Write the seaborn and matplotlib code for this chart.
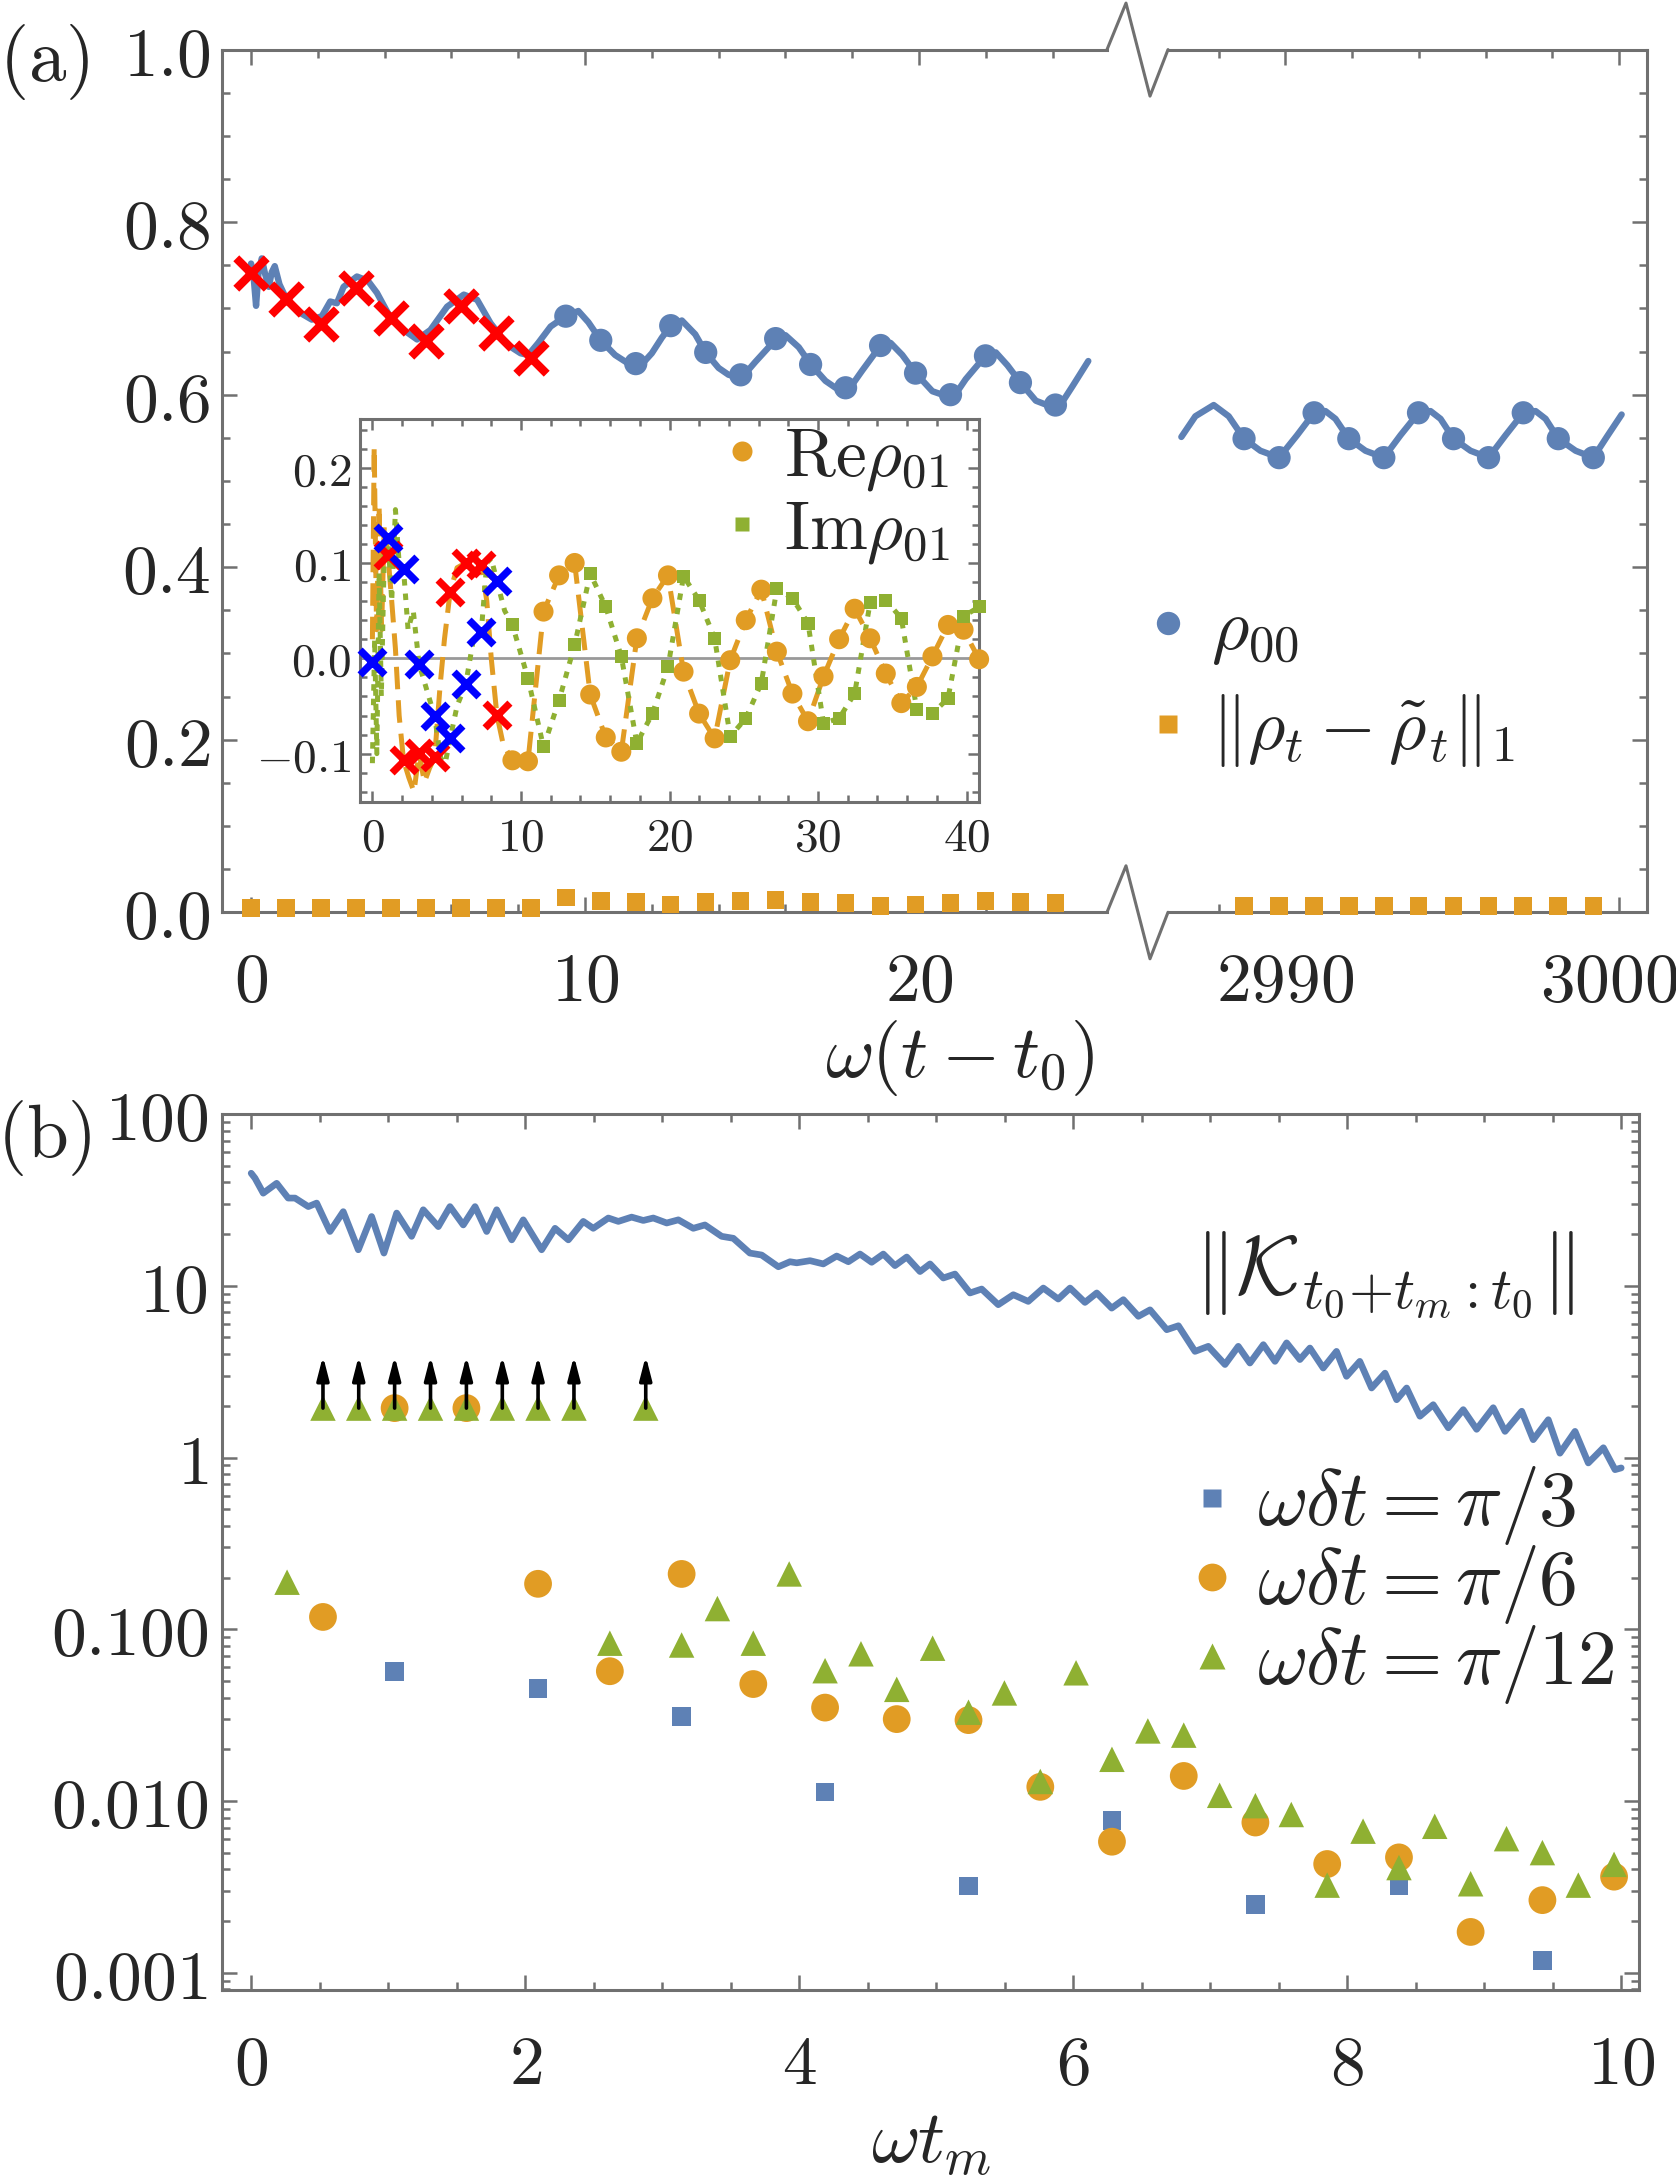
import numpy as np
import matplotlib
matplotlib.use("Agg")
import matplotlib.pyplot as plt
import seaborn as sns
from matplotlib.lines import Line2D
from matplotlib.ticker import MultipleLocator, LogLocator, NullFormatter
from matplotlib.transforms import ScaledTranslation

# ---------------- panel (a): rho_00 and trace distance ----------------
cross_t = [0.000, 1.047, 2.094, 3.142, 4.189, 5.236, 6.283, 7.330, 8.378]
cross_rho = [0.741, 0.711, 0.682, 0.724, 0.689, 0.662, 0.703, 0.672, 0.642]
circ_t = [9.425, 10.472, 11.519, 12.566, 13.614, 14.661, 15.708, 16.755,
          17.802, 18.850, 19.897, 20.944, 21.991, 23.038, 24.086]
circ_rho = [0.691, 0.663, 0.636, 0.680, 0.649, 0.623, 0.665, 0.635,
            0.608, 0.657, 0.625, 0.600, 0.645, 0.614, 0.588]
circ_t_late = [2988.76, 2989.81, 2990.86, 2991.90, 2992.95, 2993.99,
               2995.04, 2996.09, 2997.13, 2998.18, 2999.23]
circ_rho_late = [0.549, 0.527, 0.579, 0.549, 0.527, 0.579,
                 0.549, 0.527, 0.579, 0.549, 0.527]

line_t = [0.00, 0.08, 0.15, 0.22, 0.32, 0.42, 0.53, 0.62, 0.71, 0.85, 1.02,
          1.42, 1.82, 2.12, 2.37, 2.57, 2.77, 3.17, 3.50, 3.77, 4.12, 4.57,
          4.97, 5.37, 5.87, 6.37, 6.77, 7.17, 7.67, 8.07, 8.30, 8.60, 8.97,
          9.42, 9.80, 10.10, 10.47, 10.90, 11.30, 11.65, 12.00, 12.30, 12.57,
          12.90, 13.30, 13.61, 14.00, 14.30, 14.70, 15.10, 15.50, 15.71, 16.00,
          16.40, 16.76, 17.20, 17.50, 17.90, 18.30, 18.85, 19.15, 19.50, 19.90,
          20.40, 20.70, 21.05, 21.40, 21.99, 22.30, 22.65, 23.04, 23.50, 23.90,
          24.20, 24.60, 25.07]
line_rho = [0.752, 0.735, 0.703, 0.740, 0.758, 0.740, 0.725, 0.742, 0.749, 0.728,
            0.714, 0.696, 0.687, 0.691, 0.708, 0.706, 0.725, 0.737, 0.732, 0.718,
            0.693, 0.675, 0.664, 0.675, 0.702, 0.716, 0.710, 0.683, 0.658, 0.648,
            0.646, 0.660, 0.679, 0.691, 0.697, 0.684, 0.663, 0.646, 0.636, 0.633,
            0.648, 0.666, 0.680, 0.686, 0.670, 0.649, 0.631, 0.623, 0.620, 0.638,
            0.655, 0.665, 0.669, 0.655, 0.635, 0.616, 0.608, 0.606, 0.628, 0.657,
            0.660, 0.646, 0.625, 0.604, 0.600, 0.598, 0.618, 0.645, 0.649, 0.634,
            0.614, 0.593, 0.587, 0.586, 0.610, 0.639]
line_t_late = [2986.88, 2987.30, 2987.85, 2988.30, 2988.76, 2989.25, 2989.81,
               2990.35, 2990.86, 2991.20, 2991.50, 2991.90, 2992.40, 2992.95,
               2993.45, 2993.99, 2994.35, 2994.65, 2995.04, 2995.55, 2996.09,
               2996.60, 2997.13, 2997.50, 2997.80, 2998.18, 2998.70, 2999.23,
               2999.65, 3000.08]
line_rho_late = [0.551, 0.575, 0.588, 0.575, 0.549, 0.535, 0.527, 0.553, 0.579,
                 0.581, 0.572, 0.549, 0.535, 0.527, 0.553, 0.579, 0.581, 0.572,
                 0.549, 0.535, 0.527, 0.553, 0.579, 0.581, 0.572, 0.549, 0.535,
                 0.527, 0.552, 0.577]

td_val = [0.005, 0.005, 0.005, 0.005, 0.005, 0.005, 0.005, 0.005, 0.005,
          0.017, 0.013, 0.012, 0.009, 0.012, 0.013, 0.014, 0.012, 0.011,
          0.007, 0.009, 0.011, 0.013, 0.012, 0.011]
td_val_late = [0.007, 0.007, 0.007, 0.007, 0.007, 0.007,
               0.007, 0.007, 0.007, 0.007, 0.007]

# ---------------- inset: Re/Im rho_01 ----------------
in_t = [9.425, 10.472, 11.519, 12.566, 13.614, 14.661, 15.708, 16.755, 17.802,
        18.850, 19.897, 20.944, 21.991, 23.038, 24.086, 25.133, 26.180, 27.227,
        28.274, 29.322, 30.369, 31.416, 32.463, 33.510, 34.558, 35.605, 36.652,
        37.699, 38.746, 39.794, 40.841]
re_val = [-0.107, -0.108, 0.049, 0.087, 0.100, -0.038, -0.083, -0.098, 0.021,
          0.063, 0.087, -0.014, -0.058, -0.084, -0.002, 0.040, 0.072, 0.007,
          -0.037, -0.066, -0.019, 0.020, 0.052, 0.021, -0.016, -0.047, -0.030,
          0.002, 0.035, 0.030, -0.001]
im_val = [0.035, -0.021, -0.093, -0.044, 0.014, 0.089, 0.054, 0.002, -0.089,
          -0.058, -0.009, 0.086, 0.061, 0.021, -0.082, -0.063, -0.026, 0.073,
          0.063, 0.037, -0.068, -0.063, -0.037, 0.059, 0.061, 0.042, -0.054,
          -0.058, -0.042, 0.044, 0.054]
re_cross_t = [1.047, 2.094, 3.142, 4.189, 5.236, 6.283, 7.330, 8.378]
re_cross = [0.108, -0.107, -0.099, -0.104, 0.070, 0.100, 0.098, -0.059]
im_cross_t = [0.000, 1.047, 2.094, 3.142, 4.189, 5.236, 6.283, 7.330, 8.378]
im_cross = [-0.004, 0.126, 0.094, -0.006, -0.061, -0.084, -0.027, 0.028, 0.081]
re_early_t = [0.00, 0.12, 0.28, 0.45, 0.62, 0.80, 1.047, 1.30, 1.55, 1.80, 2.094,
              2.45, 2.80, 3.142, 3.50, 3.85, 4.189, 4.55, 4.85, 5.236, 5.70,
              6.283, 6.80, 7.330, 7.70, 8.00, 8.378, 8.80]
re_early = [0.02, 0.222, 0.03, 0.16, 0.03, 0.14, 0.108, 0.06, 0.01, -0.06, -0.107,
            -0.125, -0.14, -0.099, -0.13, -0.115, -0.104, -0.03, 0.02, 0.070, 0.095,
            0.100, 0.108, 0.098, 0.06, 0.00, -0.059, -0.09]
im_early_t = [0.00, 0.15, 0.30, 0.45, 0.60, 0.80, 1.047, 1.30, 1.55, 1.80, 2.094,
              2.40, 2.75, 3.142, 3.60, 4.189, 4.60, 4.90, 5.236, 5.70, 6.283,
              6.80, 7.330, 7.70, 8.00, 8.378, 8.90]
im_early = [-0.11, 0.02, -0.10, 0.09, -0.04, 0.11, 0.126, 0.06, 0.156, 0.10, 0.094,
            0.03, 0.05, -0.006, -0.03, -0.061, -0.105, -0.11, -0.084, -0.05, -0.027,
            0.02, 0.028, 0.10, 0.105, 0.081, 0.05]

# ---------------- panel (b): propagator norm and errors ----------------
k_t = [0.000, 0.028, 0.088, 0.186, 0.270, 0.320, 0.417, 0.478, 0.575, 0.672,
       0.782, 0.879, 0.969, 1.062, 1.171, 1.256, 1.366, 1.451, 1.548, 1.634,
       1.719, 1.792, 1.902, 1.986, 2.120, 2.218, 2.315, 2.424, 2.497, 2.607,
       2.680, 2.777, 2.862, 2.935, 3.033, 3.118, 3.227, 3.312, 3.434, 3.519,
       3.640, 3.726, 3.848, 3.933, 3.982, 4.079, 4.176, 4.274, 4.359, 4.444,
       4.529, 4.614, 4.699, 4.785, 4.882, 4.955, 5.052, 5.137, 5.247, 5.332,
       5.453, 5.563, 5.672, 5.782, 5.891, 5.977, 6.086, 6.172, 6.281, 6.366,
       6.476, 6.561, 6.683, 6.768, 6.889, 6.986, 7.108, 7.205, 7.290, 7.388,
       7.473, 7.558, 7.655, 7.728, 7.825, 7.922, 7.995, 8.092, 8.178, 8.276,
       8.361, 8.434, 8.531, 8.628, 8.738, 8.847, 8.945, 9.066, 9.152, 9.274,
       9.358, 9.468, 9.553, 9.663, 9.760, 9.870, 9.955, 10.000]
k_norm = [45.2, 42.3, 34.6, 39.5, 32.4, 32.4, 28.9, 30.3, 20.7, 27.0,
          16.2, 25.3, 15.5, 26.5, 19.4, 27.7, 22.1, 28.9, 22.6, 28.9,
          20.7, 27.7, 18.5, 24.2, 16.2, 21.6, 18.5, 23.7, 21.6, 24.8,
          23.7, 25.1, 24.0, 24.8, 23.2, 24.2, 21.6, 22.6, 19.4, 18.9,
          15.5, 15.1, 12.9, 13.8, 13.6, 14.0, 13.4, 14.9, 13.8, 15.3,
          13.7, 15.3, 13.1, 14.7, 12.1, 13.4, 11.1, 11.7, 9.08, 9.57,
          7.76, 8.87, 8.11, 9.70, 8.37, 9.70, 8.00, 9.08, 7.41, 8.30,
          6.64, 7.24, 5.55, 5.85, 4.15, 4.44, 3.48, 4.44, 3.55, 4.54,
          3.63, 4.65, 3.72, 4.34, 3.32, 4.15, 2.97, 3.63, 2.54, 3.10,
          2.17, 2.54, 1.74, 2.03, 1.49, 1.90, 1.46, 1.95, 1.42, 1.86,
          1.27, 1.66, 1.06, 1.42, 0.93, 1.14, 0.85, 0.87]

pi3_t = [1.047, 2.094, 3.142, 4.189, 5.236, 6.283, 7.330, 8.378, 9.425]
pi3_err = [0.057, 0.045, 0.031, 0.0113, 0.0032, 0.0077, 0.0025, 0.0032, 0.00118]
pi6_t = [0.524, 2.094, 2.618, 3.142, 3.665, 4.189, 4.712, 5.236, 5.760,
         6.283, 6.807, 7.330, 7.854, 8.378, 8.901, 9.425, 9.948]
pi6_err = [0.118, 0.184, 0.057, 0.210, 0.048, 0.035, 0.030, 0.0296, 0.0121,
           0.0058, 0.0140, 0.0075, 0.0043, 0.0047, 0.00173, 0.00265, 0.00363]
pi6_off_t = [1.047, 1.571]
pi12_t = [0.262, 2.618, 3.142, 3.403, 3.665, 3.927, 4.189, 4.451, 4.712, 4.974,
          5.236, 5.498, 5.760, 6.021, 6.283, 6.545, 6.807, 7.069, 7.330, 7.592,
          7.854, 8.116, 8.378, 8.639, 8.901, 9.163, 9.425, 9.687, 9.948]
pi12_err = [0.188, 0.083, 0.081, 0.132, 0.083, 0.21, 0.0574, 0.072, 0.0447, 0.0776,
            0.0329, 0.0426, 0.013, 0.0558, 0.0175, 0.0256, 0.0242, 0.0108, 0.0094,
            0.00835, 0.00324, 0.00668, 0.0041, 0.00713, 0.0033, 0.00604, 0.00501,
            0.00324, 0.00428]
pi12_off_t = [0.524, 0.785, 1.047, 1.309, 1.571, 1.833, 2.094, 2.356, 2.880]
off_level = 1.94   # where off-scale points are parked
off_arrow_top = 3.9

# ---------------- ticks ----------------
a_yticks = [0.0, 0.2, 0.4, 0.6, 0.8, 1.0]
a_yticklabels = ["$0.0$", "$0.2$", "$0.4$", "$0.6$", "$0.8$", "$1.0$"]
a_xticks_left = [0, 10, 20]
a_xticklabels_left = ["$0$", "$10$", "$20$"]
a_xticks_right = [2990, 3000]
a_xticklabels_right = ["$2990$", "$3000$"]
in_xticks = [0, 10, 20, 30, 40]
in_xticklabels = ["$0$", "$10$", "$20$", "$30$", "$40$"]
in_yticks = [-0.1, 0.0, 0.1, 0.2]
in_yticklabels = ["$-0.1$", "$0.0$", "$0.1$", "$0.2$"]
b_xticks = [0, 2, 4, 6, 8, 10]
b_xticklabels = ["$0$", "$2$", "$4$", "$6$", "$8$", "$10$"]
b_yticks = [0.001, 0.01, 0.1, 1, 10, 100]
b_yticklabels = ["$0.001$", "$0.010$", "$0.100$", "$1$", "$10$", "$100$"]

# ---------------- style ----------------
sns.set_style("ticks")
plt.rcParams["mathtext.fontset"] = "cm"
plt.rcParams["font.family"] = ["DejaVu Serif"]

BLUE = "#5E81B5"
ORANGE = "#E19C24"
GREEN = "#8FB032"
FRAME = "#707070"

W, H = 1676, 2176
fig = plt.figure(figsize=(W / 200, H / 200), dpi=200)


def box(x0, y0, x1, y1):
    return [x0 / W, 1 - y1 / H, (x1 - x0) / W, (y1 - y0) / H]


axL = fig.add_axes(box(222, 49.6, 1107, 912.3))
axR = fig.add_axes(box(1168, 49.6, 1647, 912.3))
axB = fig.add_axes(box(222, 1114, 1639, 1990))
axI = fig.add_axes(box(360, 419.3, 978.5, 801.7))


def frame(ax, size, major, minor, xpad, ypad):
    for s in ax.spines.values():
        s.set_color(FRAME)
        s.set_linewidth(1.1)
    ax.tick_params(which="both", direction="in", color=FRAME, width=0.9,
                   top=True, right=True, labelsize=size)
    ax.tick_params(which="major", length=major)
    ax.tick_params(which="minor", length=minor)
    ax.tick_params(axis="x", which="both", pad=xpad)
    ax.tick_params(axis="y", which="both", pad=ypad)
    ax.grid(False)


# ---- panel (a) ----
for ax, lt, lr, ct, tv in [
        (axL, line_t, line_rho, cross_t + circ_t, td_val),
        (axR, line_t_late, line_rho_late, circ_t_late, td_val_late)]:
    sns.lineplot(x=lt, y=lr, ax=ax, color=BLUE, lw=2.3, sort=False,
                 estimator=None, zorder=2, solid_joinstyle="round")
    sns.scatterplot(x=ct, y=tv, ax=ax, marker="s", s=40, color=ORANGE,
                    edgecolor="none", linewidth=0, zorder=3, clip_on=False)

sns.scatterplot(x=circ_t, y=circ_rho, ax=axL, marker="o", s=70, color=BLUE,
                edgecolor="none", linewidth=0, zorder=3)
sns.scatterplot(x=circ_t_late, y=circ_rho_late, ax=axR, marker="o", s=70,
                color=BLUE, edgecolor="none", linewidth=0, zorder=3)
sns.scatterplot(x=cross_t, y=cross_rho, ax=axL, marker="x", s=120,
                color="#FF0000", linewidth=3.0, zorder=4, clip_on=False)

axL.set_xlim(-0.87, 25.63)
axR.set_xlim(2986.48, 3000.84)
for ax in (axL, axR):
    ax.set_ylim(0, 1)
    frame(ax, 25, 5.5, 3.0, 13, 4)
    ax.set_yticks(a_yticks)
    ax.yaxis.set_minor_locator(MultipleLocator(0.05))
    ax.xaxis.set_minor_locator(MultipleLocator(2))
    ax.set_xlabel("")
    ax.set_ylabel("")
axL.set_xticks(a_xticks_left, a_xticklabels_left)
axL.set_yticklabels(a_yticklabels)
axL.spines["right"].set_visible(False)
axL.tick_params(which="both", right=False)
axR.set_xticks(a_xticks_right, a_xticklabels_right)
axR.spines["left"].set_visible(False)
axR.tick_params(which="both", left=False, labelleft=False)
# the last label sits right at the figure edge; nudge it inwards a little
for lab in axR.get_xticklabels():
    if lab.get_text() == "$3000$":
        lab.set_transform(lab.get_transform()
                          + ScaledTranslation(-0.05, 0, fig.dpi_scale_trans))

# break marks
for yb in (49.6, 912.3):
    xs = [1107, 1126, 1150, 1168]
    ys = [yb, yb - 46.5, yb + 46.5, yb]
    fig.add_artist(Line2D([x / W for x in xs], [1 - y / H for y in ys],
                          color=FRAME, lw=1.1))

legA = [Line2D([], [], ls="none", marker="o", ms=8.4, color=BLUE, mec="none"),
        Line2D([], [], ls="none", marker="s", ms=6.3, color=ORANGE, mec="none")]
fig.legend(legA, [r"$\rho_{00}$", r"$\Vert\rho_t-\tilde{\rho}_t\Vert_1$"],
           loc="center left", bbox_to_anchor=(1139 / W, 1 - 681 / H),
           frameon=False, fontsize=26, handlelength=0.8, handletextpad=0.2,
           labelspacing=0.35, borderpad=0, borderaxespad=0)

fig.text(44 / W, 1 - 62 / H, r"$\mathrm{(a)}$", fontsize=27, ha="center", va="center")
fig.text(960 / W, 1 - 1058 / H, r"$\omega(t-t_0)$", fontsize=27, ha="center", va="center")

# ---- inset ----
axI.axhline(0, color="#999999", lw=1.0, zorder=1)
sns.lineplot(x=re_early_t + in_t, y=re_early + re_val, ax=axI, color=ORANGE,
             lw=1.8, linestyle=(0, (4.5, 2.2)), sort=False, estimator=None, zorder=2)
sns.lineplot(x=im_early_t + in_t, y=im_early + im_val, ax=axI, color=GREEN,
             lw=1.8, linestyle=(0, (1.3, 1.6)), sort=False, estimator=None, zorder=2)
sns.scatterplot(x=in_t, y=re_val, ax=axI, marker="o", s=52, color=ORANGE,
                edgecolor="none", linewidth=0, zorder=3, clip_on=False)
sns.scatterplot(x=in_t, y=im_val, ax=axI, marker="s", s=22, color=GREEN,
                edgecolor="none", linewidth=0, zorder=3, clip_on=False)
sns.scatterplot(x=re_cross_t, y=re_cross, ax=axI, marker="x", s=80,
                color="#FF0000", linewidth=2.6, zorder=4)
sns.scatterplot(x=im_cross_t, y=im_cross, ax=axI, marker="x", s=80,
                color="#0000FF", linewidth=2.6, zorder=5, clip_on=False)
axI.set_xlim(-0.835, 40.8)
axI.set_ylim(-0.1504, 0.2507)
frame(axI, 17, 4.0, 2.4, 5, 3)
axI.set_xticks(in_xticks, in_xticklabels)
axI.set_yticks(in_yticks, in_yticklabels)
axI.xaxis.set_minor_locator(MultipleLocator(2))
axI.yaxis.set_minor_locator(MultipleLocator(0.02))
axI.set_xlabel("")
axI.set_ylabel("")
axI.set_facecolor("white")
legI = [Line2D([], [], ls="none", marker="o", ms=7.2, color=ORANGE, mec="none"),
        Line2D([], [], ls="none", marker="s", ms=4.7, color=GREEN, mec="none")]
axI.legend(legI, [r"$\mathrm{Re}\rho_{01}$", r"$\mathrm{Im}\rho_{01}$"],
           loc="center left", bbox_to_anchor=(0.573, 0.803), frameon=False,
           fontsize=25, handlelength=0.8, handletextpad=0.2, labelspacing=0.05,
           borderpad=0, borderaxespad=0)

# ---- panel (b) ----
sns.lineplot(x=k_t, y=k_norm, ax=axB, color=BLUE, lw=2.4, sort=False,
             estimator=None, zorder=2, solid_joinstyle="round")
sns.scatterplot(x=pi3_t, y=pi3_err, ax=axB, marker="s", s=46, color=BLUE,
                edgecolor="none", linewidth=0, zorder=3)
sns.scatterplot(x=pi6_t + pi6_off_t, y=pi6_err + [off_level] * len(pi6_off_t),
                ax=axB, marker="o", s=100, color=ORANGE, edgecolor="none",
                linewidth=0, zorder=3)
sns.scatterplot(x=pi12_t + pi12_off_t, y=pi12_err + [off_level] * len(pi12_off_t),
                ax=axB, marker="^", s=84, color=GREEN, edgecolor="none",
                linewidth=0, zorder=4)
for xo in pi12_off_t:
    axB.annotate("", xy=(xo, off_arrow_top), xytext=(xo, off_level),
                 arrowprops=dict(arrowstyle="-|>,head_width=0.18,head_length=0.7",
                                 color="black", lw=1.3, shrinkA=0, shrinkB=0),
                 zorder=5)
axB.set_yscale("log")
axB.set_xlim(-0.213, 10.13)
axB.set_ylim(10 ** -3.1, 100)
frame(axB, 25, 5.5, 3.0, 15, 5)
axB.set_xticks(b_xticks, b_xticklabels)
axB.set_yticks(b_yticks, b_yticklabels)
axB.xaxis.set_minor_locator(MultipleLocator(0.5))
axB.yaxis.set_minor_locator(LogLocator(base=10, subs=np.arange(2, 10)))
axB.yaxis.set_minor_formatter(NullFormatter())
axB.set_xlabel("")
axB.set_ylabel("")
axB.text(6.88, 11.6, r"$\Vert\mathcal{K}_{t_0{+}t_m{:}t_0}\Vert$", fontsize=30,
         ha="left", va="center")
legB = [Line2D([], [], ls="none", marker="s", ms=6.8, color=BLUE, mec="none"),
        Line2D([], [], ls="none", marker="o", ms=10, color=ORANGE, mec="none"),
        Line2D([], [], ls="none", marker="^", ms=9.2, color=GREEN, mec="none")]
fig.legend(legB, [r"$\omega\delta t=\pi/3$", r"$\omega\delta t=\pi/6$",
                  r"$\omega\delta t=\pi/12$"],
           loc="center left", bbox_to_anchor=(1183 / W, 1 - 1585 / H),
           frameon=False, fontsize=28, handlelength=0.75, handletextpad=0.2,
           labelspacing=-0.05, borderpad=0, borderaxespad=0)

fig.text(44 / W, 1 - 1138 / H, r"$\mathrm{(b)}$", fontsize=27, ha="center", va="center")
fig.text(931 / W, 1 - 2143 / H, r"$\omega t_m$", fontsize=27, ha="center", va="center")

fig.savefig("out.png", dpi=200)
